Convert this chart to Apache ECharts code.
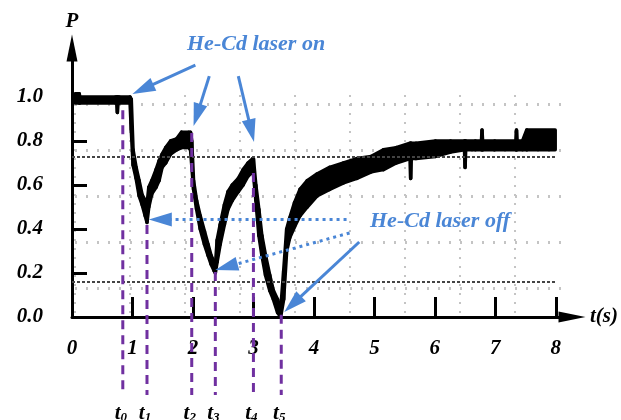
<!DOCTYPE html>
<html><head><meta charset="utf-8">
<script src="https://cdn.jsdelivr.net/npm/echarts@6/dist/echarts.min.js"></script>
<style>html,body{margin:0;padding:0;background:#fff}#c{width:621px;height:420px}</style>
</head><body><div id="c"></div>
<script>
// ---- data ----
const timeS = [0.05,0.12,0.13,0.72,0.74,0.75,0.76,0.78,0.96,0.98,1.01,1.06,1.11,1.16,1.21,1.24,1.27,1.32,1.39,1.44,1.49,1.55,1.63,1.73,1.81,1.93,1.96,1.98,2.01,2.06,2.12,2.19,2.25,2.30,2.35,2.37,2.40,2.45,2.52,2.58,2.65,2.75,2.83,2.91,2.99,3.00,3.04,3.09,3.14,3.20,3.27,3.33,3.40,3.45,3.50,3.55,3.60,3.68,3.77,3.89,4.05,4.26,4.49,4.71,4.95,5.15,5.36,5.59,5.60,5.61,5.69,6.01,6.26,6.49,6.50,6.51,6.67,6.77,6.78,6.79,6.99,7.34,7.35,7.36,7.45,7.52,7.99];
const pLow  = [0.973,0.973,0.973,0.973,0.973,0.93,0.973,0.973,0.973,0.85,0.69,0.63,0.55,0.51,0.46,0.43,0.50,0.56,0.59,0.62,0.68,0.70,0.74,0.76,0.77,0.77,0.76,0.69,0.58,0.49,0.40,0.33,0.28,0.24,0.21,0.20,0.25,0.33,0.42,0.49,0.53,0.57,0.60,0.64,0.66,0.65,0.53,0.37,0.28,0.19,0.12,0.08,0.02,0.0,0.08,0.30,0.36,0.41,0.46,0.50,0.55,0.58,0.61,0.63,0.66,0.67,0.70,0.72,0.63,0.72,0.72,0.73,0.75,0.76,0.68,0.76,0.76,0.76,0.76,0.76,0.76,0.76,0.76,0.76,0.76,0.76,0.76];
const pHigh = [1.015,1.015,1.0,1.0,1.0,1.0,1.0,1.0,1.0,0.99,0.76,0.68,0.62,0.555,0.53,0.51,0.59,0.62,0.67,0.71,0.74,0.77,0.80,0.81,0.84,0.84,0.84,0.80,0.62,0.53,0.46,0.39,0.33,0.28,0.25,0.23,0.35,0.42,0.51,0.57,0.60,0.63,0.67,0.70,0.72,0.72,0.60,0.49,0.37,0.28,0.19,0.12,0.08,0.03,0.21,0.40,0.45,0.52,0.58,0.62,0.65,0.68,0.70,0.72,0.73,0.76,0.77,0.79,0.79,0.79,0.79,0.80,0.80,0.80,0.80,0.80,0.80,0.80,0.85,0.80,0.80,0.80,0.85,0.80,0.80,0.85,0.85];
const xTickValues = [1,2,3,4,5,6,7,8];
const xLabelValues = [0,1,2,3,4,5,6,7,8];
const yTickValues = [0.2,0.4,0.6,0.8,1.0];
const yLabelValues = [0,0.2,0.4,0.6,0.8,1.0];
const refLevels = [0.727, 0.159];
const markTimes = [0.84,1.24,1.98,2.37,3.0,3.46];
const markTops  = [0.94,0.418,0.836,0.205,0.655,0.01];
const markNames = ['0','1','2','3','4','5'];
const onArrows  = [[[2.04,1.145],[1.0,1.014]],[[2.27,1.095],[2.01,0.868]],[[2.75,1.095],[3.01,0.795]]];
const offArrows = [[[4.54,0.443],[1.27,0.443]],[[4.59,0.382],[2.37,0.214]],[[4.75,0.341],[3.51,0.023]]];
const offDotted = [true, true, false];

// ---- chart ----
const SERIF = "'Liberation Serif','Times New Roman',serif";
const BLUE = '#4a86d6';
const bandRows = timeS.map((t,i)=>[t,pLow[i],pHigh[i]]);
const labelFont = {fontFamily:SERIF,fontStyle:'italic',fontWeight:'bold',fontSize:21,color:'#000'};

function renderBand(params, api){
  const i = params.dataIndex;
  if (i >= bandRows.length-1) return null;
  const a = bandRows[i], b = bandRows[i+1];
  const pts = [api.coord([a[0],a[2]]), api.coord([b[0],b[2]]), api.coord([b[0],b[1]]), api.coord([a[0],a[1]])];
  return {type:'polygon', shape:{points:pts}, style:{fill:'#000', stroke:'#000', lineWidth:3.5, lineJoin:'round'}};
}

const chart = echarts.init(document.getElementById('c'), null, {renderer:'canvas'});
chart.setOption({
  animation:false,
  backgroundColor:'#fff',
  grid:[
    {left:72, top:48, width:506, height:269},
    {left:75, top:95, width:440, height:222},
    {left:75, top:104, width:487, height:184}
  ],
  xAxis:[
    {gridIndex:0, type:'value', min:0, max:506/61.2,
     axisLine:{show:true,onZero:false,lineStyle:{color:'#000',width:3},symbol:['none','triangle'],symbolSize:[11,27]},
     axisTick:{show:true,customValues:xTickValues,inside:true,length:20,lineStyle:{color:'#000',width:3}},
     axisLabel:Object.assign({customValues:xLabelValues,margin:21,formatter:v=>String(Math.round(v))},labelFont),
     splitLine:{show:false},
     name:'t(s)', nameLocation:'end', nameGap:18, nameTextStyle:Object.assign({},labelFont)},
    {gridIndex:1, type:'value', min:0, max:8, interval:1, axisLine:{show:false}, axisTick:{show:false}, axisLabel:{show:false},
     splitLine:{show:true,lineStyle:{color:'#c4c4c4',width:2,type:[2,7]}}},
    {gridIndex:2, type:'value', min:0, max:1, axisLine:{show:false}, axisTick:{show:false}, axisLabel:{show:false}, splitLine:{show:false}}
  ],
  yAxis:[
    {gridIndex:0, type:'value', min:0, max:269/220,
     axisLine:{show:true,onZero:false,lineStyle:{color:'#000',width:3},symbol:['none','triangle'],symbolSize:[11,27]},
     axisTick:{show:true,customValues:yTickValues,inside:true,length:15,lineStyle:{color:'#000',width:3}},
     axisLabel:Object.assign({customValues:yLabelValues,margin:29,formatter:v=>v.toFixed(1)},labelFont),
     splitLine:{show:false},
     name:'P', nameLocation:'end', nameGap:16, nameTextStyle:Object.assign({},labelFont)},
    {gridIndex:1, type:'value', min:0, max:1, axisLine:{show:false}, axisTick:{show:false}, axisLabel:{show:false}, splitLine:{show:false}},
    {gridIndex:2, type:'value', min:0, max:4, interval:1, axisLine:{show:false}, axisTick:{show:false}, axisLabel:{show:false},
     splitLine:{show:true,lineStyle:{color:'#c4c4c4',width:3,type:[2,9]}}}
  ],
  series:[
    {type:'line', xAxisIndex:0, yAxisIndex:0, data:[], silent:true,
     markLine:{silent:true, symbol:['none','none'], label:{show:false},
       lineStyle:{color:'#444',width:2,type:[3,2]},
       data: refLevels.map(v=>[{coord:[0,v]},{coord:[8,v]}])}},
    {type:'custom', xAxisIndex:0, yAxisIndex:0, data:bandRows, renderItem:renderBand, silent:true, z:3,
     encode:{x:0, y:[1,2]}}
  ]
});

// annotations computed from data coordinates
const toPx = p => chart.convertToPixel({xAxisIndex:0,yAxisIndex:0}, p);
const g = [];
function addArrow(a, dotted){
  const s = toPx(a[0]), e = toPx(a[1]);
  const dx = e[0]-s[0], dy = e[1]-s[1], L = Math.hypot(dx,dy), ux = dx/L, uy = dy/L;
  const hl = 23, hw = 7;
  const bx = e[0]-ux*hl, by = e[1]-uy*hl;
  g.push({type:'line', z:12, shape:{x1:s[0],y1:s[1],x2:bx+ux*2,y2:by+uy*2},
          style:{stroke:BLUE,lineWidth:3,lineDash: dotted ? [3,4] : null}});
  g.push({type:'polygon', z:12, shape:{points:[[e[0],e[1]],[bx-uy*hw,by+ux*hw],[bx+uy*hw,by-ux*hw]]},
          style:{fill:BLUE}});
}
onArrows.forEach(a=>addArrow(a,false));
offArrows.forEach((a,i)=>addArrow(a,offDotted[i]));
markTimes.forEach((t,i)=>{
  const top = toPx([t,markTops[i]]);
  const bot = toPx([t,-0.355]);
  g.push({type:'line', z:10, shape:{x1:top[0],y1:top[1],x2:bot[0],y2:bot[1]},
          style:{stroke:'#7030a0',lineWidth:3,lineDash:[9,6]}});
  g.push({type:'text', z:10, x:top[0]-2, y:400,
          style:{text:'{a|t}{b|'+markNames[i]+'}', align:'center', verticalAlign:'top',
            rich:{a:{fontFamily:SERIF,fontStyle:'italic',fontWeight:'bold',fontSize:21,fill:'#000',verticalAlign:'bottom',lineHeight:24},
                  b:{fontFamily:SERIF,fontStyle:'italic',fontWeight:'bold',fontSize:13,fill:'#000',verticalAlign:'bottom',lineHeight:10}}}});
});
g.push({type:'text', z:12, x:187, y:44, style:{text:'He-Cd laser on', fill:BLUE, font:"italic bold 22px "+SERIF, align:'left', verticalAlign:'middle'}});
g.push({type:'text', z:12, x:370, y:221, style:{text:'He-Cd laser off', fill:BLUE, font:"italic bold 22px "+SERIF, align:'left', verticalAlign:'middle'}});
chart.setOption({graphic:g});
</script></body></html>
